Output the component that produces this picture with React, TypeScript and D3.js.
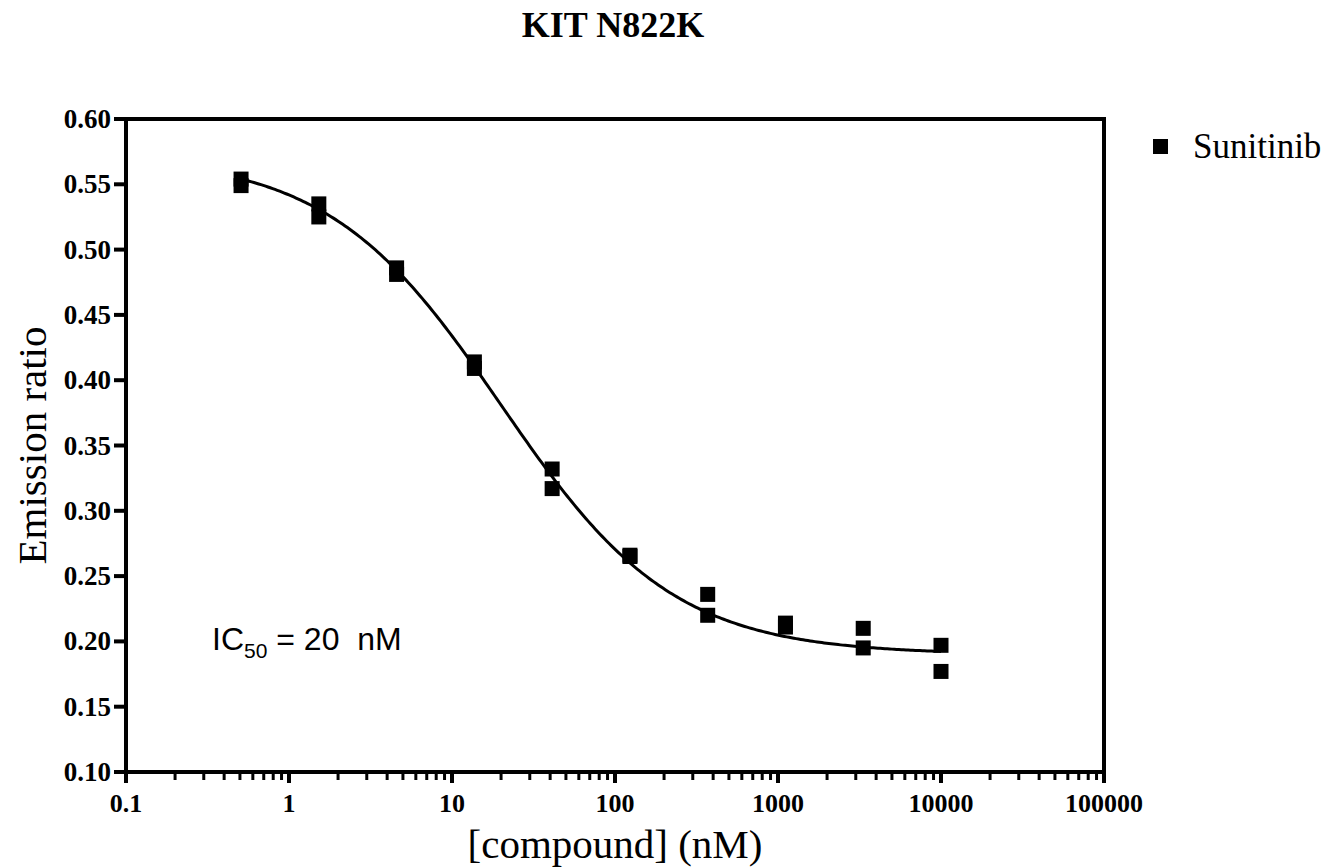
import React from "react";
import * as d3 from "d3";

const title = "KIT N822K";
const seriesName = "Sunitinib";
const concentrations = [0.508, 1.524, 4.572, 13.72, 41.15, 123.5, 370.4, 1111, 3333, 10000];
const replicateA = [0.554, 0.535, 0.486, 0.414, 0.332, 0.266, 0.236, 0.214, 0.210, 0.197];
const replicateB = [0.549, 0.525, 0.481, 0.409, 0.317, 0.265, 0.220, 0.211, 0.195, 0.177];
const xTicks = [0.1, 1, 10, 100, 1000, 10000, 100000];
const xTickLabels = ["0.1", "1", "10", "100", "1000", "10000", "100000"];
const yTicks = [0.1, 0.15, 0.2, 0.25, 0.3, 0.35, 0.4, 0.45, 0.5, 0.55, 0.6];
// four-parameter logistic fit
const fitTop = 0.572;
const fitBottom = 0.19;
const fitIC50 = 20;
const fitHill = 0.82;

const W = 1321;
const H = 867;
const L = 126, R = 1104, T = 119, B = 772;
const serif = "'Liberation Serif', 'Times New Roman', serif";
const sans = "'Liberation Sans', Arial, sans-serif";

export default function App() {
  const x = d3.scaleLog().domain([0.1, 100000]).range([L, R]);
  const y = d3.scaleLinear().domain([0.1, 0.6]).range([B, T]);

  const minor: number[] = [];
  for (let e = -1; e < 5; e++) {
    for (let k = 2; k <= 9; k++) minor.push(k * Math.pow(10, e));
  }

  const lo = Math.log10(0.5), hi = Math.log10(10000);
  const xs = d3.range(0, 301).map((i) => Math.pow(10, lo + (i / 300) * (hi - lo)));
  const fit = (c: number) => fitBottom + (fitTop - fitBottom) / (1 + Math.pow(c / fitIC50, fitHill));
  const line = d3.line<number>().x((c) => x(c)).y((c) => y(fit(c)));

  const pts: [number, number][] = [];
  concentrations.forEach((c, i) => {
    pts.push([c, replicateA[i]]);
    pts.push([c, replicateB[i]]);
  });
  const sq = 15;

  return (
    <svg width={W} height={H} style={{ position: "absolute", left: 0, top: 0, background: "#fff" }}>
      <rect width={W} height={H} fill="#fff" />
      <text x={613} y={37} textAnchor="middle" fontFamily={serif} fontWeight="bold" fontSize={36}>{title}</text>

      {/* frame */}
      <rect x={L} y={T} width={R - L} height={B - T} fill="none" stroke="#000" strokeWidth={4} />

      {/* y ticks */}
      {yTicks.map((v) => (
        <g key={v}>
          <line x1={L - 12} x2={L} y1={y(v)} y2={y(v)} stroke="#000" strokeWidth={4} />
          <text x={111} y={y(v) + 9} textAnchor="end" fontFamily={serif} fontWeight="bold" fontSize={27}>{v.toFixed(2)}</text>
        </g>
      ))}

      {/* x ticks */}
      {minor.map((v) => (
        <line key={"m" + v} x1={x(v)} x2={x(v)} y1={B} y2={B + 8} stroke="#000" strokeWidth={3} />
      ))}
      {xTicks.map((v, i) => (
        <g key={v}>
          <line x1={x(v)} x2={x(v)} y1={B} y2={B + 11} stroke="#000" strokeWidth={4} />
          <text x={x(v)} y={812} textAnchor="middle" fontFamily={serif} fontWeight="bold" fontSize={26}>{xTickLabels[i]}</text>
        </g>
      ))}

      {/* axis titles */}
      <text x={615} y={858} textAnchor="middle" fontFamily={serif} fontSize={41}>[compound] (nM)</text>
      <text transform={`translate(46, ${(T + B) / 2}) rotate(-90)`} textAnchor="middle" fontFamily={serif} fontSize={41}>Emission ratio</text>

      {/* fit curve */}
      <path d={line(xs) || ""} fill="none" stroke="#000" strokeWidth={3} />

      {/* points */}
      {pts.map(([c, v], i) => (
        <rect key={i} x={x(c) - sq / 2} y={y(v) - sq / 2} width={sq} height={sq} fill="#000" />
      ))}

      {/* IC50 annotation */}
      <text x={212} y={650} fontFamily={sans} fontSize={32} xmlSpace="preserve" style={{ whiteSpace: "pre" }}>
        IC<tspan fontSize={21} dy={8}>50</tspan><tspan dy={-8}>{" = 20  nM"}</tspan>
      </text>

      {/* legend */}
      <rect x={1153} y={139} width={15} height={15} fill="#000" />
      <text x={1193} y={158} fontFamily={serif} fontSize={35}>{seriesName}</text>
    </svg>
  );
}
